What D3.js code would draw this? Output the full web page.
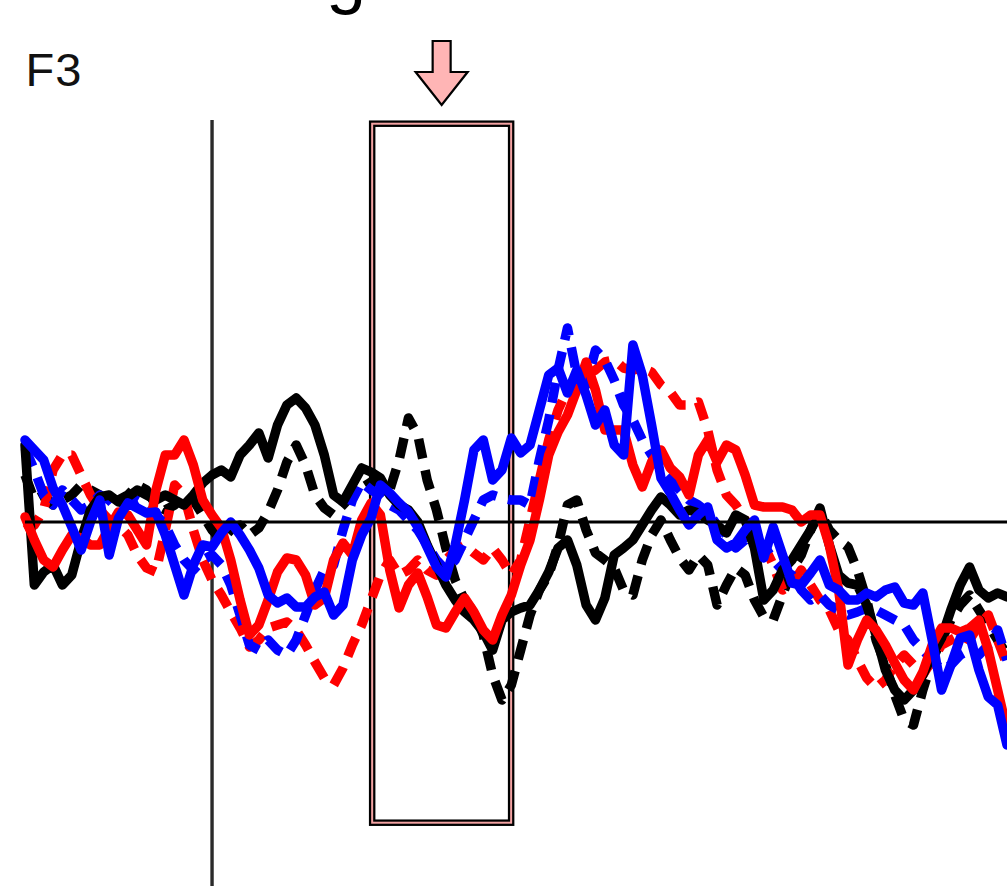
<!DOCTYPE html>
<html>
<head>
<meta charset="utf-8">
<script src="https://cdn.jsdelivr.net/npm/d3@7/dist/d3.min.js"></script>
<style>
  html, body { margin: 0; padding: 0; background: #fff; }
  svg { display: block; }
</style>
</head>
<body>
<svg id="chart" width="1007" height="886"></svg>
<script>
// ---- Data (µV, sampled every 10 ms from -200 to 850 ms) ----
const times = d3.range(-200, 851, 10);

const blackSolid = [
  7.7, -6.3, -5.0, -4.3, -6.3, -5.3, -1.8, 1.2, 2.5, 2.7,
  2.0, 2.5, 3.2, 2.7, 2.2, 2.7, 2.2, 1.7, 2.7, 3.9,
  4.7, 5.2, 4.5, 6.7, 7.7, 8.9, 6.4, 9.7, 11.7, 12.4,
  11.4, 9.7, 6.7, 2.7, 2.0, 3.7, 5.4, 5.0, 4.4, 2.7,
  1.7, 1.2, 0, -2.3, -4.3, -6.3, -7.8, -9.0, -9.8, -11.0,
  -12.8, -9.8, -9.0, -8.6, -8.3, -6.8, -5.0, -2.6, -1.8, -4.3,
  -8.3, -9.8, -7.6, -3.3, -2.6, -1.8, -0.3, 1.2, 2.5, 1.7,
  0.7, 1.2, 0.9, 0.2, -0.3, -1.1, 0.7, 0.2, -2.6, -7.8,
  -6.8, -4.8, -3.8, -2.3, -0.8, 1.4, -2.3, -5.3, -6.1, -6.3,
  -8.3, -11.3, -14.8, -16.8, -17.8, -16.8, -15.3, -13.3, -11.6, -8.8,
  -6.3, -4.5, -6.8, -7.6, -7.1, -7.5
];
const blackDashed = [
  4.7, 2.2, 2.7, 1.7, 2.2, 2.7, 3.7, 3.2, 2.7, 1.7,
  2.2, 2.7, 3.7, 3.2, 1.7, 1.2, 1.7, 2.7, 2.2, 0.7,
  -0.8, -1.8, -0.8, -0.3, -1.3, -0.6, 1.0, 3.2, 6.0, 7.7,
  5.7, 2.7, 1.4, 0.7, 1.7, 2.7, 3.4, 4.0, 4.2, 3.2,
  6.2, 10.4, 8.7, 4.2, 1.2, -2.6, -5.8, -7.8, -9.0, -11.3,
  -15.3, -17.8, -16.3, -12.8, -9.3, -6.8, -5.3, -2.3, 1.7, 2.2,
  -0.8, -3.1, -3.8, -4.6, -6.8, -7.3, -3.8, -1.3, 0.2, -1.8,
  -3.6, -4.8, -3.3, -4.3, -8.3, -6.3, -4.6, -5.3, -7.8, -9.5,
  -9.8, -7.3, -4.8, -3.3, -0.8, 1.0, -0.8, -1.8, -2.5, -4.8,
  -7.8, -11.8, -14.3, -17.3, -19.8, -20.3, -16.8, -13.8, -11.8, -9.8,
  -8.3, -7.3, -8.8, -10.3, -11.8, -13.3
];
const redSolid = [
  0.5, -1.8, -3.8, -4.5, -2.8, -1.3, -1.6, -2.3, -2.3, -0.6,
  1.0, 0.7, -0.8, -2.3, 3.2, 6.7, 6.7, 8.2, 5.7, 2.2,
  0.7, -0.6, -3.8, -7.8, -11.3, -10.3, -7.8, -5.0, -3.6, -3.8,
  -5.3, -8.3, -7.6, -3.8, -2.1, -3.3, 0.2, 1.9, 0.7, -4.8,
  -8.6, -6.3, -5.1, -7.5, -10.3, -10.6, -9.0, -7.6, -9.0, -10.8,
  -11.8, -9.3, -7.3, -4.3, -1.8, 2.2, 6.7, 9.0, 10.7, 13.2,
  16.0, 13.2, 9.2, 9.2, 9.2, 5.7, 3.5, 6.0, 7.2, 5.4,
  4.5, 2.7, 6.7, 8.2, 6.0, 7.7, 7.2, 4.7, 1.7, 1.5,
  1.5, 1.5, 1.2, 0, 0.7, 0.7, -2.3, -6.8, -14.3, -11.8,
  -9.8, -10.8, -12.3, -14.1, -15.8, -16.8, -15.0, -12.3, -10.6, -10.6,
  -11.0, -10.6, -9.8, -12.8, -16.8, -20.8
];
const redDashed = [
  -0.8, -0.3, 1.2, 5.2, 6.7, 6.7, 4.7, 2.7, 1.2, 0.2,
  -0.3, -1.3, -3.3, -4.6, -5.0, -0.8, 3.7, 2.7, -0.8, -3.8,
  -5.8, -7.3, -9.0, -10.6, -12.5, -11.8, -10.6, -10.3, -10.0, -10.8,
  -12.3, -14.0, -15.6, -16.3, -14.6, -12.3, -10.3, -7.8, -5.3, -3.8,
  -5.3, -4.8, -3.8, -4.8, -5.3, -3.8, -2.8, -2.3, -3.1, -3.8,
  -2.6, -3.8, -5.3, -3.8, 0.2, 4.2, 8.2, 11.2, 13.2, 14.2,
  14.7, 15.2, 16.0, 16.2, 15.4, 15.2, 15.4, 15.0, 13.7, 13.0,
  11.7, 11.7, 12.0, 9.2, 5.2, 2.7, 1.7, 0.2, -0.8, -2.3,
  -4.3, -6.8, -6.3, -4.8, -6.3, -7.8, -8.8, -10.8, -11.8, -13.8,
  -15.6, -16.6, -15.8, -14.3, -13.3, -14.3, -15.3, -13.8, -12.3, -11.8,
  -11.3, -11.8, -10.3, -9.3, -11.8, -14.3
];
const blueSolid = [
  8.2, 7.2, 6.2, 3.4, 1.7, -0.5, -2.8, 0, 2.2, -3.3,
  0.4, 1.9, 1.4, 0.9, 1.0, -1.3, -4.3, -7.3, -4.3, -2.3,
  -2.5, -1.1, 0, -1.3, -2.8, -4.6, -7.3, -8.1, -7.6, -8.5,
  -8.5, -7.5, -7.0, -9.3, -8.3, -3.8, -1.3, 0.4, 3.7, 2.9,
  1.9, 1.0, -0.5, -2.5, -4.5, -5.5, -2.3, 2.2, 7.2, 8.2,
  4.2, 5.2, 8.4, 6.9, 7.7, 11.2, 14.7, 15.4, 12.9, 15.2,
  12.7, 9.7, 11.2, 7.7, 6.7, 17.7, 14.7, 9.7, 4.4, 2.9,
  1.2, -0.3, 0.7, 1.5, -1.8, -2.6, -2.1, -0.8, 0.2, -3.6,
  -0.5, -3.3, -6.1, -6.3, -5.1, -3.8, -6.3, -6.8, -7.8, -7.8,
  -7.1, -7.5, -6.8, -6.5, -8.1, -8.3, -7.1, -11.8, -16.8, -14.3,
  -11.6, -11.3, -14.8, -17.5, -18.3, -22.3
];
const blueDashed = [
  7.4, 5.2, 2.7, 1.7, 3.2, 2.2, 1.2, 1.7, 2.7, 2.2,
  1.2, 1.7, 2.2, 1.7, 0.7, -0.3, -2.3, -3.8, -4.8, -3.8,
  -3.3, -4.3, -6.3, -9.3, -12.3, -12.8, -11.8, -12.8, -13.3, -11.8,
  -9.3, -6.8, -4.8, -4.3, -0.8, 2.2, 4.0, 3.2, 2.7, 1.7,
  1.2, 0.2, -0.8, -2.3, -3.8, -4.8, -3.8, -1.8, 0.2, 2.2,
  2.7, 2.4, 2.2, 2.2, 1.7, 6.2, 10.2, 15.2, 19.4, 14.7,
  13.7, 17.2, 16.2, 14.2, 11.7, 10.2, 8.2, 6.7, 5.2, 4.2,
  3.2, 2.2, 1.7, 1.0, -0.3, -1.3, -2.6, -1.8, -2.8, -2.3,
  -3.8, -4.8, -5.3, -6.8, -7.8, -7.3, -8.3, -8.8, -9.3, -9.0,
  -8.6, -8.8, -9.3, -9.8, -10.3, -11.8, -12.8, -13.8, -14.8, -14.3,
  -13.3, -12.8, -13.3, -12.3, -10.8, -13.8
];

const seriesNames = ["blackDashed", "redDashed", "blueDashed", "blackSolid", "redSolid", "blueSolid"];
const seriesValues = [blackDashed, redDashed, blueDashed, blackSolid, redSolid, blueSolid];
const seriesColors = ["#000000", "#ff0000", "#0000ff", "#000000", "#ff0000", "#0000ff"];
const seriesDashed = [true, true, true, false, false, false];

const channelLabel = "F3";
const titleFragment = "g";
const windowStart = 168;   // ms, highlighted analysis window
const windowEnd = 323;     // ms

// ---- Scales ----
const svg = d3.select("#chart");
const x = d3.scaleLinear().domain([-200, 850]).range([25, 1007]);
const y = d3.scaleLinear().domain([-30, 30]).range([822, 222]);

// title fragment (cropped at top, as in the reference)
svg.append("text")
  .attr("x", 326).attr("y", 0)
  .attr("font-family", "Liberation Sans, Arial, sans-serif")
  .attr("font-size", 72)
  .attr("fill", "#000")
  .text(titleFragment);

// channel label
svg.append("text")
  .attr("x", 25.5).attr("y", 86)
  .attr("font-family", "Liberation Sans, Arial, sans-serif")
  .attr("font-size", 47)
  .attr("letter-spacing", 1)
  .attr("fill", "#111")
  .text(channelLabel);

// analysis window box (black / pink / black)
const bx0 = x(windowStart), bx1 = x(windowEnd);
[["#000", 6.5], ["#f4a3a3", 2]].forEach(([c, w]) => {
  svg.append("rect")
    .attr("x", bx0 + 3).attr("y", 123.7)
    .attr("width", bx1 - bx0 - 6).attr("height", 699)
    .attr("fill", "none").attr("stroke", c).attr("stroke-width", w);
});

// arrow above window
const ax = (bx0 + bx1) / 2;
svg.append("path")
  .attr("d", `M${ax - 9},41 L${ax + 9},41 L${ax + 9},72 L${ax + 26},72 L${ax},105 L${ax - 26},72 L${ax - 9},72 Z`)
  .attr("fill", "#ffb5b5").attr("stroke", "#000").attr("stroke-width", 2.2)
  .attr("stroke-linejoin", "miter");

// onset line
svg.append("line")
  .attr("x1", x(0)).attr("x2", x(0))
  .attr("y1", 120).attr("y2", 886)
  .attr("stroke", "#2a2a2a").attr("stroke-width", 3.4);

// waveforms
const line = d3.line().x((d, i) => x(times[i])).y(d => y(d));
seriesValues.forEach((vals, k) => {
  svg.append("path")
    .datum(vals)
    .attr("d", line)
    .attr("fill", "none")
    .attr("stroke", seriesColors[k])
    .attr("stroke-width", 9.5)
    .attr("stroke-linejoin", "round")
    .attr("stroke-linecap", seriesDashed[k] ? "butt" : "round")
    .attr("stroke-dasharray", seriesDashed[k] ? "20,12" : null)
    .attr("class", seriesNames[k]);
});

// baseline
svg.append("line")
  .attr("x1", x(-200)).attr("x2", x(850))
  .attr("y1", y(0)).attr("y2", y(0))
  .attr("stroke", "#000").attr("stroke-width", 3);
</script>
</body>
</html>
